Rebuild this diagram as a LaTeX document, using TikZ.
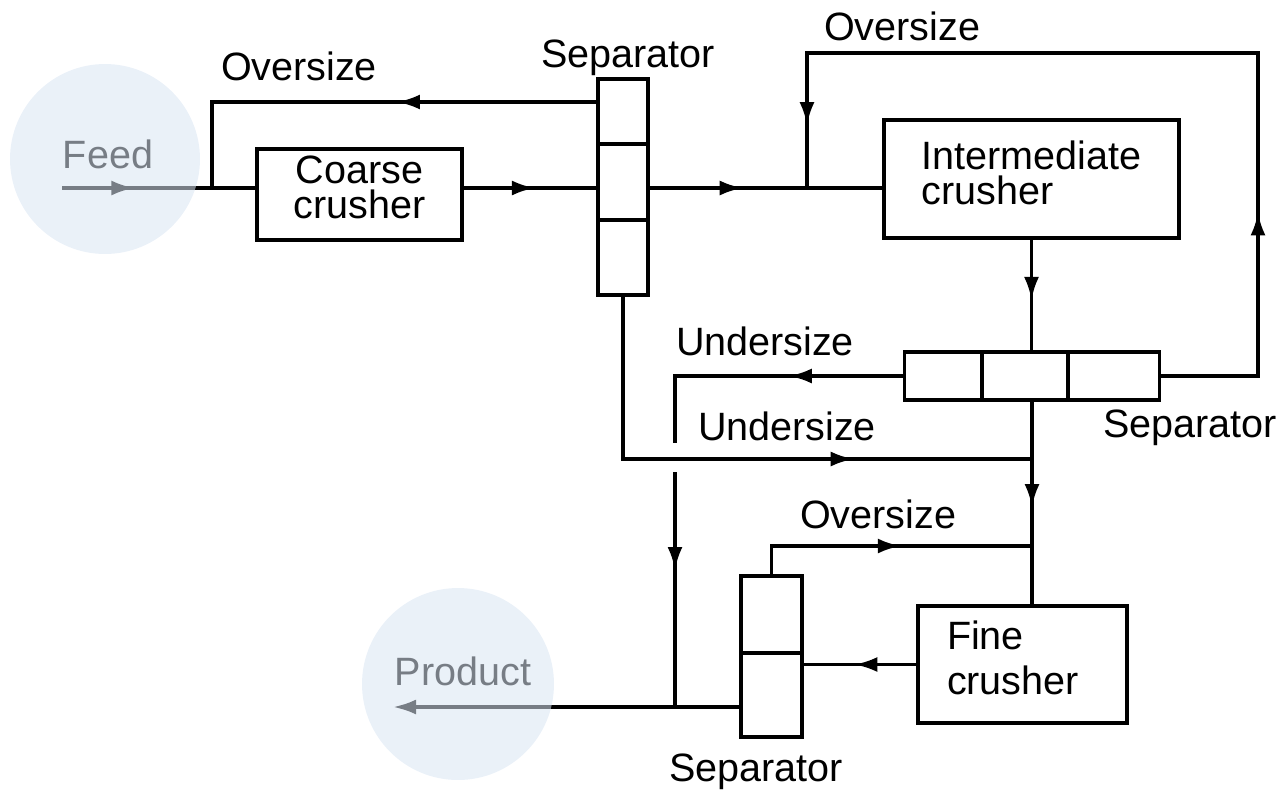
\documentclass[tikz,border=0pt]{standalone}
\usepackage{fontspec}
\setmainfont{Liberation Sans}
\usetikzlibrary{arrows.meta}
\usetikzlibrary{decorations.markings}

\begin{document}
\begin{tikzpicture}[x=0.02cm,y=-0.02cm,
    flow/.style={line width=2pt},
    mid arrow/.style={
      postaction={
        decorate,
        decoration={
          markings,
          mark=at position #1 with {\arrow{Latex[length=4.6mm,width=3mm]}},
        }
      }
    },
    unit/.style={draw,line width=1.8pt,inner sep=2pt,
      font=\fontsize{22.5pt}{20pt}\selectfont},
    sep/.style={draw,line width=1.8pt,inner sep=0pt},
    lbl/.style={anchor=base,inner sep=0pt,font=\fontsize{22.5pt}{27pt}\selectfont},
    halo/.style={fill={rgb,255:red,217;green,229;blue,243},fill opacity=0.55}
  ]
  \useasboundingbox (0,0) rectangle (1284,795);

  % crushers
  \node[unit,minimum width=4.1cm,minimum height=1.82cm,align=center]
    (coarse) at (359.5,194.5) {Coarse\\crusher\rule[-0.28cm]{0pt}{0pt}};
  \node[unit,minimum width=5.9cm,minimum height=2.36cm,align=left]
    (inter) at (1031.5,179) {Intermediate\\crusher\rule[-0.24cm]{0pt}{0pt}};
  \node[unit,minimum width=4.18cm,minimum height=2.34cm,text width=3.02cm,align=left,
    font=\fontsize{22.5pt}{25.6pt}\selectfont]
    (fine) at (1022.5,664.5) {Fine\\crusher\rule[-0.26cm]{0pt}{0pt}};

  % separators
  \node[sep,minimum width=1cm,minimum height=4.32cm] (sep1) at (623,187) {};
  \draw[line width=1.8pt] (sep1.west |- 0,144) -- (sep1.east |- 0,144);
  \draw[line width=1.8pt] (sep1.west |- 0,220) -- (sep1.east |- 0,220);
  \node[sep,minimum width=5.1cm,minimum height=0.96cm] (sep2) at (1032,376) {};
  \draw[line width=1.8pt] (sep2.north -| 982,0) -- (sep2.south -| 982,0);
  \draw[line width=1.8pt] (sep2.north -| 1068,0) -- (sep2.south -| 1068,0);
  \node[sep,minimum width=1.22cm,minimum height=3.22cm] (sep3) at (771.5,656.5) {};
  \draw[line width=1.8pt] (sep3.west |- 0,653) -- (sep3.east |- 0,653);

  % junctions and free ends
  \coordinate (feedin) at (62,188);
  \coordinate (j1) at (212,188);
  \coordinate (ovtop) at (212,102);
  \coordinate (j2) at (807,188);
  \coordinate (ovr) at (1258,53);
  \coordinate (hopa) at (675,443);
  \coordinate (hopb) at (675,472);
  \coordinate (j3) at (675,707);
  \coordinate (j4) at (1032,459);
  \coordinate (j5) at (1032,546);
  \coordinate (prodout) at (393,707);

  % flows
  \draw[flow,mid arrow=0.374] (feedin) -- (feedin -| coarse.west);
  \draw[flow,mid arrow=0.424] (sep1.west |- ovtop) -- (ovtop) -- (j1);
  \draw[flow,mid arrow=0.537] (coarse.east |- j1) -- (sep1.west |- j1);
  \draw[flow,mid arrow=0.40] (sep1.east |- j2) -- (inter.west |- j2);
  \draw[flow,mid arrow=0.259,mid arrow=0.9375] (sep2.east) -| (ovr) -| (j2);
  \draw[flow,mid arrow=0.544] (inter.south) -- (inter.south |- sep2.north);
  \draw[flow,mid arrow=0.688] (sep1.south) |- (j4);
  \draw[flow,mid arrow=0.387] (sep2.west) -| (hopa);
  \draw[flow,mid arrow=0.417] (hopb) -- (j3);
  \draw[flow,mid arrow=0.52] (sep2.south) -- (sep2.south |- fine.north);
  \draw[flow,mid arrow=0.546] (sep3.north) |- (j5);
  \draw[flow,mid arrow=0.55] (fine.west) -- (fine.west -| sep3.east);
  \draw[flow,-{Latex[length=4.6mm,width=3mm]}] (sep3.west |- j3) -- (prodout);

  % labels
  \node[lbl] (ovA) at (299,80) {Oversize};
  \node[lbl] (sepA) at (628,67) {Separator};
  \node[lbl] (ovB) at (902,40) {Oversize};
  \node[lbl] (unA) at (765,355) {Undersize};
  \node[lbl] (sepB) at (1190,437) {Separator};
  \node[lbl] (unB) at (787,440) {Undersize};
  \node[lbl] (ovC) at (878,528) {Oversize};
  \node[lbl] (sepC) at (756,781) {Separator};
  \node[lbl] (feed) at (108,168) {Feed};
  \node[lbl] (product) at (463,685) {Product};

  % highlights over feed and product
  \fill[halo] (105,159) circle[radius=1.9cm];
  \fill[halo] (458,684) circle[radius=1.92cm];
\end{tikzpicture}
\end{document}
